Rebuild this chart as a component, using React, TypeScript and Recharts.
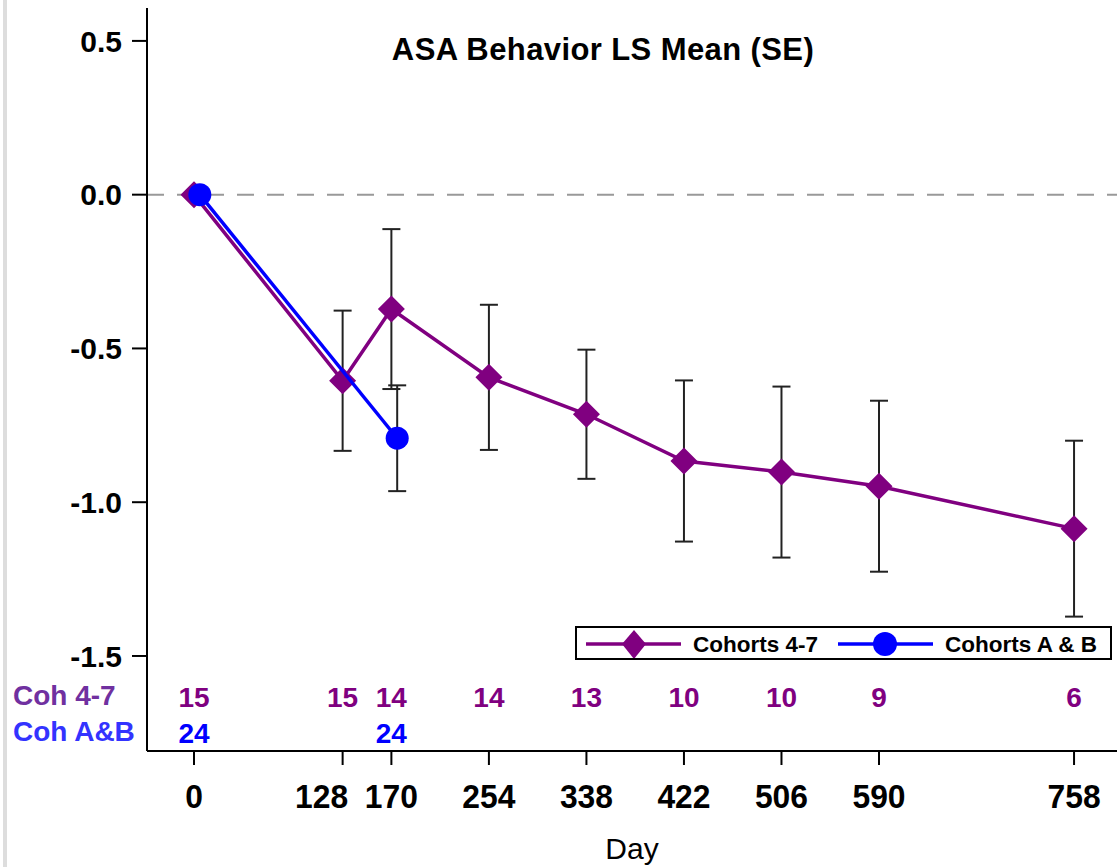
import React from "react";
import {
  ComposedChart,
  Scatter,
  XAxis,
  YAxis,
  ErrorBar,
  ReferenceLine,
} from "recharts";

document.body.style.margin = "0";

// days on the x axis
const DAYS = [0, 128, 170, 254, 338, 422, 506, 590, 758];

// Cohorts 4-7: LS mean and SE per visit
const COH47_MEAN = [0, -0.605, -0.372, -0.594, -0.714, -0.866, -0.902, -0.948, -1.086];
const COH47_SE = [0, 0.228, 0.26, 0.236, 0.21, 0.262, 0.278, 0.278, 0.286];
const COH47_N = [15, 15, 14, 14, 13, 10, 10, 9, 6];

// Cohorts A & B
const COHAB_DAYS = [0, 170];
const COHAB_MEAN = [0, -0.792];
const COHAB_SE = [0, 0.172];
const COHAB_N = [24, 24];

const Y_TICKS = [0.5, 0, -0.5, -1, -1.5];
const DODGE = 5; // small horizontal offset of the A & B series, in days

const PURPLE = "#800080";
const BLUE = "#0000FF";
const FONT = '"Liberation Sans", Arial, sans-serif';

const coh47 = DAYS.map((d, i) => ({ day: d, y: COH47_MEAN[i], err: COH47_SE[i] }));
const cohAB = COHAB_DAYS.map((d, i) => ({ day: d + DODGE, y: COHAB_MEAN[i], err: COHAB_SE[i] }));

const Diamond = ({ cx, cy, r = 13.5 }: any) => (
  <polygon
    points={`${cx},${cy - r} ${cx + r},${cy} ${cx},${cy + r} ${cx - r},${cy}`}
    fill={PURPLE}
  />
);

const Dot = ({ cx, cy }: any) => <circle cx={cx} cy={cy} r={11.5} fill={BLUE} />;

// day label (condensed bold) plus the N counts drawn just above the axis
const DayTick = (props: any) => {
  const { x, y, payload } = props;
  const i = DAYS.indexOf(payload.value);
  const j = COHAB_DAYS.indexOf(payload.value);
  const label = String(payload.value);
  // crowded labels get nudged left, like the original
  const next = DAYS[i + 1];
  const nudge = next != null && next - payload.value < 60 ? -21 : 0;
  return (
    <g>
      <text
        x={x + nudge}
        y={y + 43}
        textAnchor="middle"
        fontFamily={FONT}
        fontWeight="bold"
        fontSize={34}
        fill="#000"
        textLength={label.length * 17.7}
        lengthAdjust="spacingAndGlyphs"
      >
        {label}
      </text>
      {i >= 0 && (
        <text x={x} y={y - 58} textAnchor="middle" fontFamily={FONT} fontWeight="bold" fontSize={28} fill={PURPLE}>
          {COH47_N[i]}
        </text>
      )}
      {j >= 0 && (
        <text x={x} y={y - 22} textAnchor="middle" fontFamily={FONT} fontWeight="bold" fontSize={28} fill={BLUE}>
          {COHAB_N[j]}
        </text>
      )}
    </g>
  );
};

function LegendBox() {
  return (
    <div
      style={{
        position: "absolute",
        left: 575,
        top: 626,
        width: 533,
        height: 30,
        border: "2px solid #000",
        background: "#fff",
      }}
    >
      <svg width={533} height={30} style={{ position: "absolute", left: 0, top: 0 }}>
        <line x1={9} x2={104} y1={16} y2={16} stroke={PURPLE} strokeWidth={3.5} />
        <polygon points="57,2 69,16 57,31 45,16" fill={PURPLE} />
        <line x1={261} x2={356} y1={16} y2={16} stroke={BLUE} strokeWidth={3.5} />
        <circle cx={308} cy={16} r={12} fill={BLUE} />
        <text x={116} y={24} fontFamily={FONT} fontWeight="bold" fontSize={22.5}>
          Cohorts 4-7
        </text>
        <text x={368} y={24} fontFamily={FONT} fontWeight="bold" fontSize={22.5}>
          Cohorts A &amp; B
        </text>
      </svg>
    </div>
  );
}

export default function App() {
  return (
    <div style={{ position: "relative", width: 1117, height: 867, fontFamily: FONT, overflow: "hidden" }}>
      <div style={{ position: "absolute", left: 3, top: 0, width: 4, height: 867, background: "#dddddd" }} />
      <ComposedChart width={1117} height={867} margin={{ top: 8, right: 0, bottom: 0, left: 0 }}>
        <XAxis
          xAxisId="top"
          orientation="top"
          type="number"
          dataKey="day"
          domain={[-40.5, 795]}
          height={0}
          tick={false}
          tickLine={false}
          axisLine={{ stroke: "#000", strokeWidth: 2 }}
        />
        <XAxis
          type="number"
          dataKey="day"
          domain={[-40.5, 795]}
          ticks={DAYS}
          height={116}
          tickSize={14}
          tickMargin={0}
          tick={<DayTick />}
          tickLine={{ stroke: "#000", strokeWidth: 2 }}
          axisLine={{ stroke: "#000", strokeWidth: 2 }}
          allowDataOverflow
          label={{
            value: "Day",
            position: "insideBottom",
            offset: 8,
            fontFamily: FONT,
            fontSize: 30,
            fill: "#000",
          }}
        />
        <YAxis
          type="number"
          dataKey="y"
          domain={[-1.809, 0.607]}
          ticks={Y_TICKS}
          width={147}
          tickSize={15}
          tickMargin={10}
          tickFormatter={(v: number) => v.toFixed(1)}
          tick={{ fontFamily: FONT, fontWeight: "bold", fontSize: 30, fill: "#000" }}
          tickLine={{ stroke: "#000", strokeWidth: 2 }}
          axisLine={{ stroke: "#000", strokeWidth: 2 }}
          allowDataOverflow
        />
        <ReferenceLine y={0} stroke="#999" strokeWidth={2} strokeDasharray="17 13" />
        <Scatter
          data={coh47}
          isAnimationActive={false}
          line={{ stroke: PURPLE, strokeWidth: 3.5 }}
          lineType="joint"
          shape={(p: any) => <Diamond cx={p.cx} cy={p.cy} />}
        >
          <ErrorBar dataKey="err" direction="y" width={9} stroke="#222" strokeWidth={2} isAnimationActive={false} />
        </Scatter>
        <Scatter
          data={cohAB}
          isAnimationActive={false}
          line={{ stroke: BLUE, strokeWidth: 3.5 }}
          lineType="joint"
          shape={(p: any) => <Dot cx={p.cx} cy={p.cy} />}
        >
          <ErrorBar dataKey="err" direction="y" width={9} stroke="#222" strokeWidth={2} isAnimationActive={false} />
        </Scatter>
      </ComposedChart>
      <div
        style={{
          position: "absolute",
          left: 0,
          top: 32,
          width: 1206,
          textAlign: "center",
          fontWeight: "bold",
          fontSize: 31,
          letterSpacing: 0.4,
          color: "#000",
        }}
      >
        ASA Behavior LS Mean (SE)
      </div>
      <div style={{ position: "absolute", left: 13, top: 680, fontWeight: "bold", fontSize: 28, color: "#7030A0", whiteSpace: "nowrap" }}>
        Coh 4-7
      </div>
      <div style={{ position: "absolute", left: 13, top: 716, fontWeight: "bold", fontSize: 28, color: "#3333FF", whiteSpace: "nowrap" }}>
        Coh A&amp;B
      </div>
      <LegendBox />
    </div>
  );
}
